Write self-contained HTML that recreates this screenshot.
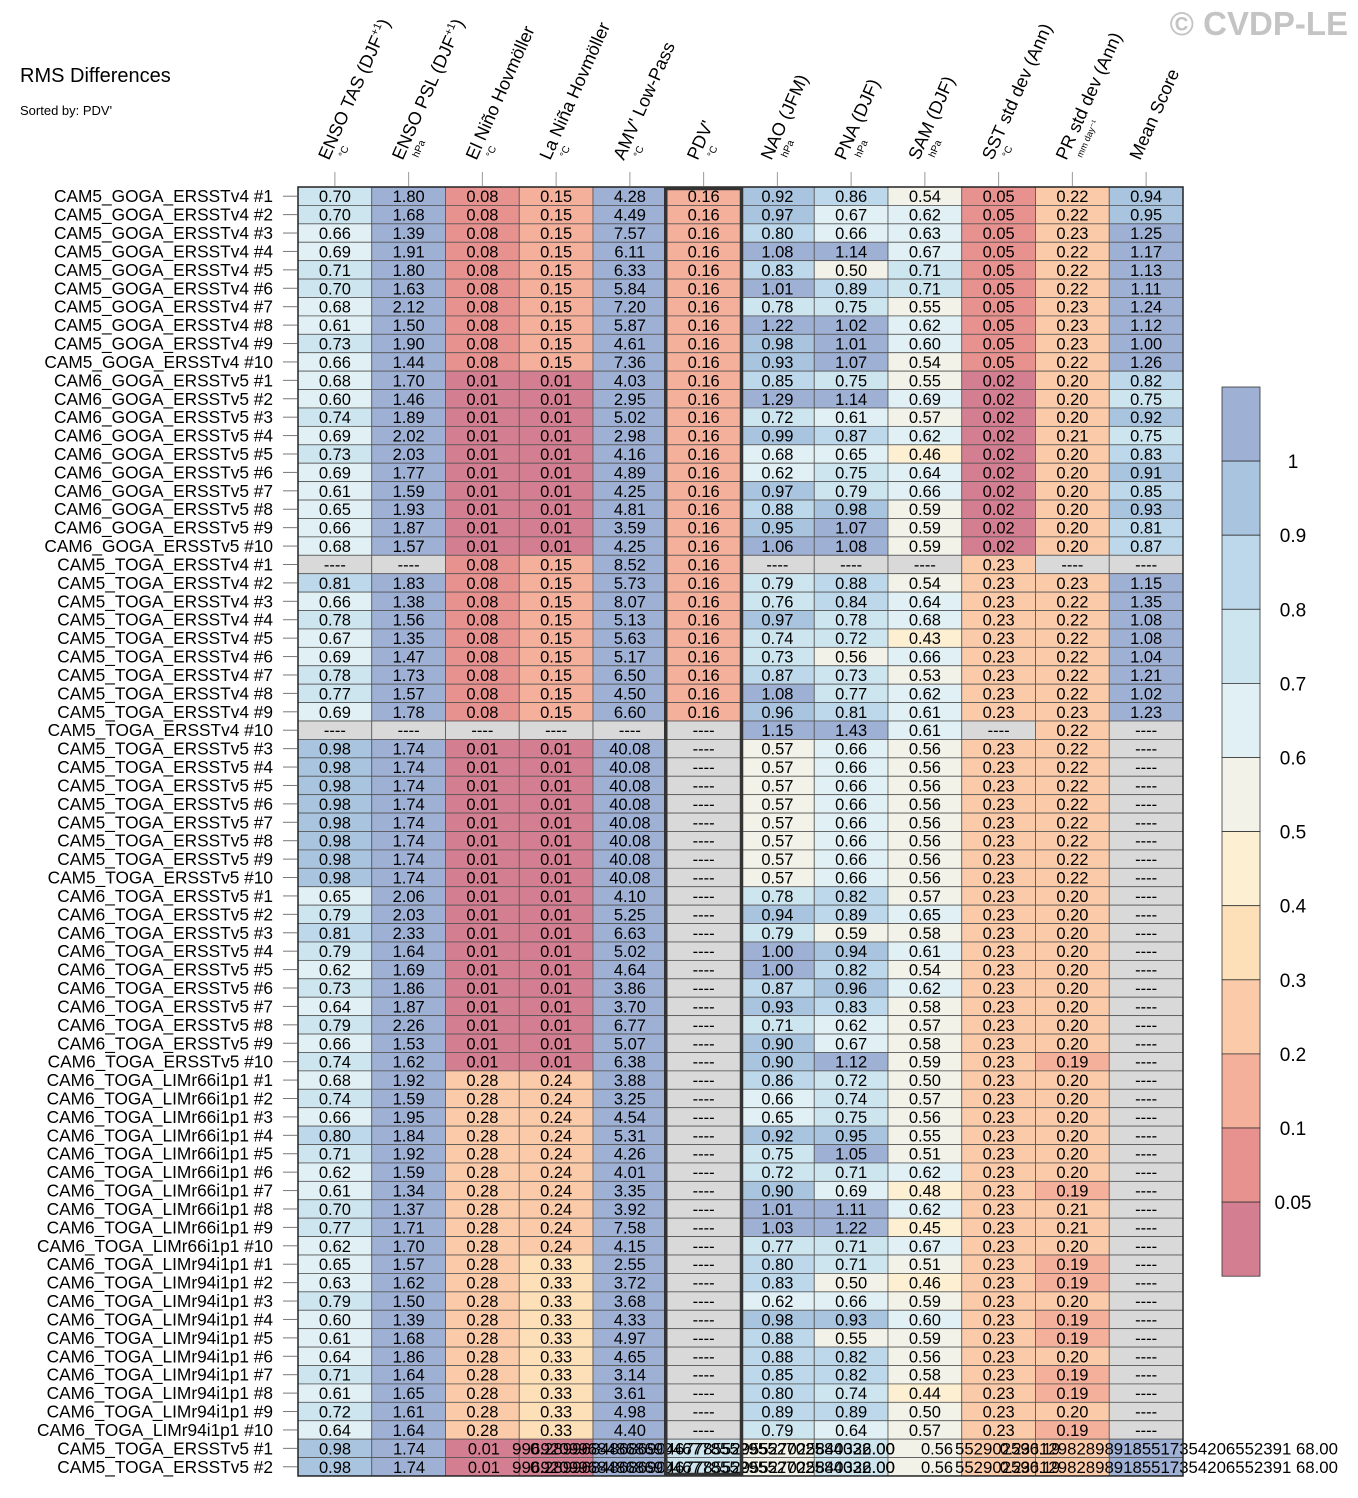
<!DOCTYPE html>
<html><head><meta charset="utf-8"><style>
html,body{margin:0;padding:0;background:#fff;}
svg{display:block;font-family:"Liberation Sans",sans-serif;}
</style></head><body>
<svg id="chart" width="1358" height="1498" viewBox="0 0 1358 1498" xmlns="http://www.w3.org/2000/svg">
<text x="20" y="82" font-size="20">RMS Differences</text>
<text x="20" y="115" font-size="13">Sorted by: PDV'</text>
<text x="1348" y="35" font-size="33" font-weight="bold" fill="#c4c4c4" text-anchor="end">© CVDP-LE</text>
<g id="heat"></g>
</svg>
<script>
function rep(v,n){return Array(n).fill(v);}
const groupNames=["CAM5_GOGA_ERSSTv4","CAM6_GOGA_ERSSTv5","CAM5_TOGA_ERSSTv4","CAM5_TOGA_ERSSTv5","CAM6_TOGA_ERSSTv5","CAM6_TOGA_LIMr66i1p1","CAM6_TOGA_LIMr94i1p1"];
const groupMembers=[[1,2,3,4,5,6,7,8,9,10],[1,2,3,4,5,6,7,8,9,10],[1,2,3,4,5,6,7,8,9,10],[3,4,5,6,7,8,9,10],[1,2,3,4,5,6,7,8,9,10],[1,2,3,4,5,6,7,8,9,10],[1,2,3,4,5,6,7,8,9,10]];
const columns=["ENSO TAS (DJF","ENSO PSL (DJF","El Niño Hovmöller","La Niña Hovmöller","AMV' Low-Pass","PDV'","NAO (JFM)","PNA (DJF)","SAM (DJF)","SST std dev (Ann)","PR std dev (Ann)","Mean Score"];
const units=["°C","hPa","°C","°C","°C","°C","hPa","hPa","hPa","°C","mm day⁻¹",""];
const ensoTas=[.70,.70,.66,.69,.71,.70,.68,.61,.73,.66, .68,.60,.74,.69,.73,.69,.61,.65,.66,.68, null,.81,.66,.78,.67,.69,.78,.77,.69,null, .98,.98,.98,.98,.98,.98,.98,.98, .65,.79,.81,.79,.62,.73,.64,.79,.66,.74, .68,.74,.66,.80,.71,.62,.61,.70,.77,.62, .65,.63,.79,.60,.61,.64,.71,.61,.72,.64];
const ensoPsl=[1.80,1.68,1.39,1.91,1.80,1.63,2.12,1.50,1.90,1.44, 1.70,1.46,1.89,2.02,2.03,1.77,1.59,1.93,1.87,1.57, null,1.83,1.38,1.56,1.35,1.47,1.73,1.57,1.78,null, 1.74,1.74,1.74,1.74,1.74,1.74,1.74,1.74, 2.06,2.03,2.33,1.64,1.69,1.86,1.87,2.26,1.53,1.62, 1.92,1.59,1.95,1.84,1.92,1.59,1.34,1.37,1.71,1.70, 1.57,1.62,1.50,1.39,1.68,1.86,1.64,1.65,1.61,1.64];
const elNino=[...rep(.08,10),...rep(.01,10),...rep(.08,9),null,...rep(.01,8),...rep(.01,10),...rep(.28,10),...rep(.28,10)];
const laNina=[...rep(.15,10),...rep(.01,10),...rep(.15,9),null,...rep(.01,8),...rep(.01,10),...rep(.24,10),...rep(.33,10)];
const amv=[4.28,4.49,7.57,6.11,6.33,5.84,7.20,5.87,4.61,7.36, 4.03,2.95,5.02,2.98,4.16,4.89,4.25,4.81,3.59,4.25, 8.52,5.73,8.07,5.13,5.63,5.17,6.50,4.50,6.60,null, ...rep(40.08,8), 4.10,5.25,6.63,5.02,4.64,3.86,3.70,6.77,5.07,6.38, 3.88,3.25,4.54,5.31,4.26,4.01,3.35,3.92,7.58,4.15, 2.55,3.72,3.68,4.33,4.97,4.65,3.14,3.61,4.98,4.40];
const pdv=[...rep(.16,29),...rep(null,39)];
const nao=[.92,.97,.80,1.08,.83,1.01,.78,1.22,.98,.93, .85,1.29,.72,.99,.68,.62,.97,.88,.95,1.06, null,.79,.76,.97,.74,.73,.87,1.08,.96,1.15, ...rep(.57,8), .78,.94,.79,1.00,1.00,.87,.93,.71,.90,.90, .86,.66,.65,.92,.75,.72,.90,1.01,1.03,.77, .80,.83,.62,.98,.88,.88,.85,.80,.89,.79];
const pna=[.86,.67,.66,1.14,.50,.89,.75,1.02,1.01,1.07, .75,1.14,.61,.87,.65,.75,.79,.98,1.07,1.08, null,.88,.84,.78,.72,.56,.73,.77,.81,1.43, ...rep(.66,8), .82,.89,.59,.94,.82,.96,.83,.62,.67,1.12, .72,.74,.75,.95,1.05,.71,.69,1.11,1.22,.71, .71,.50,.66,.93,.55,.82,.82,.74,.89,.64];
const sam=[.54,.62,.63,.67,.71,.71,.55,.62,.60,.54, .55,.69,.57,.62,.46,.64,.66,.59,.59,.59, null,.54,.64,.68,.43,.66,.53,.62,.61,.61, ...rep(.56,8), .57,.65,.58,.61,.54,.62,.58,.57,.58,.59, .50,.57,.56,.55,.51,.62,.48,.62,.45,.67, .51,.46,.59,.60,.59,.56,.58,.44,.50,.57];
const sst=[...rep(.05,10),...rep(.02,10),...rep(.23,9),null,...rep(.23,8),...rep(.23,30)];
const pr=[.22,.22,.23,.22,.22,.22,.23,.23,.23,.22, .20,.20,.20,.21,.20,.20,.20,.20,.20,.20, null,.23,.22,.22,.22,.22,.22,.22,.23,.22, ...rep(.22,8), .20,.20,.20,.20,.20,.20,.20,.20,.20,.19, .20,.20,.20,.20,.20,.20,.19,.21,.21,.20, .19,.19,.20,.19,.19,.20,.19,.19,.20,.19];
const meanScore=[.94,.95,1.25,1.17,1.13,1.11,1.24,1.12,1.00,1.26, .82,.75,.92,.75,.83,.91,.85,.93,.81,.87, null,1.15,1.35,1.08,1.08,1.04,1.21,1.02,1.23,null, ...rep(null,38)];
const levels=[0.05,0.1,0.2,0.3,0.4,0.5,0.6,0.7,0.8,0.9,1];
const levelLabels=["0.05","0.1","0.2","0.3","0.4","0.5","0.6","0.7","0.8","0.9","1"];
const palette=["#d47f91","#e89290","#f5b09c","#fbcaa8","#fddfb8","#fcefd2","#f2f2e8","#e1f0f4","#cde5ef","#bcd8ea","#a8c4de","#9fb0d5"];
const extraLabels=["CAM5_TOGA_ERSSTv5 #1","CAM5_TOGA_ERSSTv5 #2"];

const NS="http://www.w3.org/2000/svg";
const g=document.getElementById('heat');
const X0=298,CW=73.75,Y0=187,RH=18.414;
const xPos=i=>X0+CW*i, yPos=r=>Y0+RH*r;
function colorFor(v){if(v===null)return "#d9d9d9";let k=0;while(k<levels.length&&v>=levels[k]-1e-9)k++;return palette[k];}
function mk(tag,attrs,parent){const e=document.createElementNS(NS,tag);for(const k in attrs)e.setAttribute(k,attrs[k]);(parent||g).appendChild(e);return e;}

const rowLabels=[];
groupNames.forEach((n,gi)=>groupMembers[gi].forEach(m=>rowLabels.push(n+" #"+m)));
const cols=[ensoTas,ensoPsl,elNino,laNina,amv,pdv,nao,pna,sam,sst,pr,meanScore];
const nRows=rowLabels.length+extraLabels.length;

for(let r=0;r<rowLabels.length;r++){
  for(let c=0;c<cols.length;c++){
    const v=cols[c][r];
    const rect=mk('rect',{x:xPos(c),y:yPos(r),width:CW,height:RH,fill:colorFor(v),stroke:"#555","stroke-width":0.8});
    
    
    const t=mk('text',{x:xPos(c)+CW/2,y:yPos(r)+RH/2+6,'font-size':16.5,'text-anchor':'middle'});
    t.textContent=v===null?"----":v.toFixed(2);
    
    
  }
}
const extraColors=["#a8c4de","#9fb0d5","#d47f91","#d47f91","#9fb0d5","#cde5ef","#f2f2e8","#cde5ef","#f2f2e8","#fbcaa8","#fbcaa8","#9fb0d5"];
extraLabels.forEach((lab,i)=>{
  const r=rowLabels.length+i;
  extraColors.forEach((col,c)=>{
    const rect=mk('rect',{x:xPos(c),y:yPos(r),width:CW,height:RH,fill:col,stroke:"#555","stroke-width":0.8});
    
    
  });
  const yb=yPos(r)+RH/2+6;
  [["0.98",335,"middle"],["1.74",409,"middle"],["0.01",500,"end"],["0.56",937,"middle"]].forEach(([s,x,a])=>{
    const t=mk('text',{x:x,y:yb,'font-size':16.5,'text-anchor':a});t.textContent=s;
    
    
  });
  [["99692099684868690467785529552702584032.00",512,383],["0.28996848686904677855295527025840326.00",530,365],["552902596129828989185517354206552391 68.00",955,383],["0.230.19",1000,60]].forEach(([s,x,w])=>{
    const t=mk('text',{x:x,y:yb,'font-size':16.5,textLength:w,lengthAdjust:'spacingAndGlyphs'});t.textContent=s;
    
    
  });
});
[...rowLabels,...extraLabels].forEach((lab,r)=>{
  const cy=yPos(r)+RH/2;
  const t=mk('text',{x:273,y:cy+6,'font-size':17.3,'text-anchor':'end'});t.textContent=lab;
  
  
  const l=mk('line',{x1:283,x2:297,y1:cy,y2:cy,stroke:"#777","stroke-width":1});
  
  
});
const ob=mk('rect',{x:X0,y:Y0,width:CW*12,height:RH*nRows,fill:"none",stroke:"#222","stroke-width":1.5});


const pb=mk('rect',{x:xPos(5)-1,y:Y0+1.5,width:CW+2,height:RH*nRows-3,fill:"none",stroke:"#333","stroke-width":3.5});


columns.forEach((name,c)=>{
  const cx=xPos(c)+CW/2;
  const l=mk('line',{x1:cx,x2:cx,y1:172,y2:186,stroke:"#999","stroke-width":1});
  
  
  const hg=mk('g',{transform:`translate(${cx-6},161) rotate(-66)`});
  
  
  const t=mk('text',{x:0,y:0,'font-size':18},hg);
  t.textContent=name;
  if(c<2){const s=mk('tspan',{'font-size':11,dy:-7},t);s.textContent="+1";const s2=mk('tspan',{dy:7},t);s2.textContent=")";}
  if(units[c]){const u=mk('text',{x:9,y:13,'font-size':c===10?9:10},hg);u.textContent=units[c];}
});
const CBY=387,CBH=74.1;
palette.slice().reverse().forEach((col,i)=>{
  const rect=mk('rect',{x:1222,y:CBY+CBH*i,width:38,height:CBH,fill:col,stroke:"#333","stroke-width":0.8});
  
  
});
levelLabels.slice().reverse().forEach((lab,i)=>{
  const t=mk('text',{x:1293,y:CBY+CBH*(i+1)+7,'font-size':19,'text-anchor':'middle'});t.textContent=lab;
  
  
});
</script>
</body></html>
